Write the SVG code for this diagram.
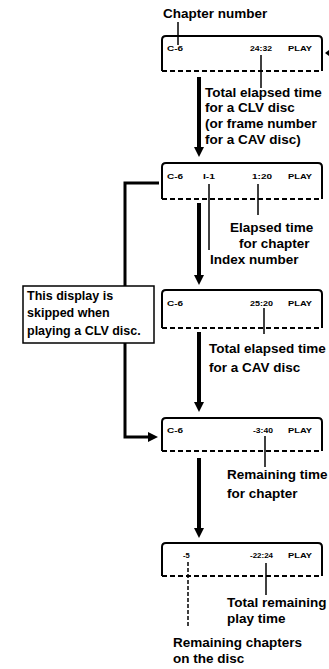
<svg xmlns="http://www.w3.org/2000/svg" width="329" height="669" viewBox="0 0 329 669">
<style>
  .lbl { font-family: "Liberation Sans", Arial, sans-serif; font-weight: bold; font-size: 13.5px; fill: #000; }
  .note { font-family: "Liberation Sans", Arial, sans-serif; font-weight: bold; font-size: 12.5px; fill: #000; }
  .disp { font-family: "Liberation Sans", Arial, sans-serif; font-weight: bold; font-size: 7.5px; fill: #000; }
  .frame { fill: none; stroke: #000; stroke-width: 2; stroke-linejoin: round; }
  .dash { fill: none; stroke: #000; stroke-width: 2; stroke-dasharray: 5 3; }
  .ptr { fill: none; stroke: #000; stroke-width: 1.5; }
  .arrow { fill: none; stroke: #000; stroke-width: 4; }
  .conn { fill: none; stroke: #000; stroke-width: 3; }
</style>
<defs>
  <marker id="ah" viewBox="0 0 10 10" refX="2" refY="5" markerWidth="10" markerHeight="10" markerUnits="userSpaceOnUse" orient="auto">
    <path d="M0,0 L10,5 L0,10 z" fill="#000"/>
  </marker>
</defs>
<rect width="329" height="669" fill="#fff"/>

<g id="connectors">
  <line class="arrow" x1="199" y1="77" x2="199" y2="149" marker-end="url(#ah)"/>
  <line class="arrow" x1="199" y1="203" x2="199" y2="277" marker-end="url(#ah)"/>
  <line class="arrow" x1="199" y1="332" x2="199" y2="404" marker-end="url(#ah)"/>
  <line class="arrow" x1="199" y1="458" x2="199" y2="530" marker-end="url(#ah)"/>
  <path class="conn" d="M159,183 H125 V286"/>
  <path class="conn" d="M125,343 V437 H150" marker-end="url(#ah)"/>
  <line class="ptr" x1="178" y1="22" x2="178" y2="45"/>
  <line class="ptr" x1="261" y1="55" x2="261" y2="88"/>
  <line class="ptr" x1="209" y1="184" x2="209" y2="250"/>
  <line class="ptr" x1="258" y1="184" x2="258" y2="215"/>
  <line class="ptr" x1="264" y1="308" x2="264" y2="334"/>
  <line class="ptr" x1="265" y1="436" x2="265" y2="467"/>
  <line class="ptr" x1="188" y1="562" x2="188" y2="628" stroke-dasharray="4 2"/>
  <line class="ptr" x1="266" y1="563" x2="266" y2="595"/>
</g>

<g id="label-chapter">
  <text class="lbl" x="163" y="18">Chapter number</text>
</g>

<g id="display1">
  <path class="frame" d="M162,71 V40 Q162,36 166,36 H318 Q322,36 322,40 V71"/>
  <line class="dash" x1="162" y1="71" x2="322" y2="71"/>
  <text class="disp" x="167" y="51" textLength="16" lengthAdjust="spacingAndGlyphs">C-6</text>
  <text class="disp" x="250" y="51" textLength="22" lengthAdjust="spacingAndGlyphs">24:32</text>
  <text class="disp" x="288" y="51" textLength="24" lengthAdjust="spacingAndGlyphs">PLAY</text>
  <polygon points="325,53 329,50 329,56" fill="#000"/>
</g>
<g id="label1">
  <text class="lbl" x="205" y="97">Total elapsed time</text>
  <text class="lbl" x="205" y="112">for a CLV disc</text>
  <text class="lbl" x="205" y="128">(or frame number</text>
  <text class="lbl" x="205" y="144">for a CAV disc)</text>
</g>

<g id="display2">
  <path class="frame" d="M162,199 V167 Q162,163 166,163 H318 Q322,163 322,167 V199"/>
  <line class="dash" x1="162" y1="199" x2="322" y2="199"/>
  <text class="disp" x="167" y="179" textLength="16" lengthAdjust="spacingAndGlyphs">C-6</text>
  <text class="disp" x="203" y="179" textLength="12" lengthAdjust="spacingAndGlyphs">I-1</text>
  <text class="disp" x="252" y="179" textLength="20" lengthAdjust="spacingAndGlyphs">1:20</text>
  <text class="disp" x="288" y="179" textLength="24" lengthAdjust="spacingAndGlyphs">PLAY</text>
</g>
<g id="label2">
  <text class="lbl" x="230" y="232">Elapsed time</text>
  <text class="lbl" x="239" y="248">for chapter</text>
  <text class="lbl" x="210" y="264">Index number</text>
</g>

<g id="note">
  <rect x="23" y="286" width="131" height="57" fill="#fff" stroke="#000" stroke-width="1.5"/>
  <text class="note" x="27" y="300">This display is</text>
  <text class="note" x="27" y="317">skipped when</text>
  <text class="note" x="27" y="335">playing a CLV disc.</text>
</g>

<g id="display3">
  <path class="frame" d="M162,328 V294 Q162,290 166,290 H318 Q322,290 322,294 V328"/>
  <line class="dash" x1="162" y1="328" x2="322" y2="328"/>
  <text class="disp" x="167" y="306" textLength="16" lengthAdjust="spacingAndGlyphs">C-6</text>
  <text class="disp" x="250" y="306" textLength="23" lengthAdjust="spacingAndGlyphs">25:20</text>
  <text class="disp" x="288" y="306" textLength="24" lengthAdjust="spacingAndGlyphs">PLAY</text>
</g>
<g id="label3">
  <text class="lbl" x="209" y="353">Total elapsed time</text>
  <text class="lbl" x="209" y="372">for a CAV disc</text>
</g>

<g id="display4">
  <path class="frame" d="M162,451 V422 Q162,418 166,418 H318 Q322,418 322,422 V451"/>
  <line class="dash" x1="162" y1="451" x2="322" y2="451"/>
  <text class="disp" x="167" y="433" textLength="16" lengthAdjust="spacingAndGlyphs">C-6</text>
  <text class="disp" x="253" y="433" textLength="20" lengthAdjust="spacingAndGlyphs">-3:40</text>
  <text class="disp" x="288" y="433" textLength="24" lengthAdjust="spacingAndGlyphs">PLAY</text>
</g>
<g id="label4">
  <text class="lbl" x="227" y="479">Remaining time</text>
  <text class="lbl" x="227" y="498">for chapter</text>
</g>

<g id="display5">
  <path class="frame" d="M162,576 V547 Q162,543 166,543 H318 Q322,543 322,547 V576"/>
  <line class="dash" x1="162" y1="576" x2="322" y2="576"/>
  <text class="disp" x="183" y="558">-5</text>
  <text class="disp" x="250" y="558" textLength="23" lengthAdjust="spacingAndGlyphs">-22:24</text>
  <text class="disp" x="288" y="558" textLength="24" lengthAdjust="spacingAndGlyphs">PLAY</text>
</g>
<g id="label5">
  <text class="lbl" x="227" y="607">Total remaining</text>
  <text class="lbl" x="227" y="623">play time</text>
  <text class="lbl" x="173" y="647">Remaining chapters</text>
  <text class="lbl" x="173" y="663">on the disc</text>
</g>
</svg>
